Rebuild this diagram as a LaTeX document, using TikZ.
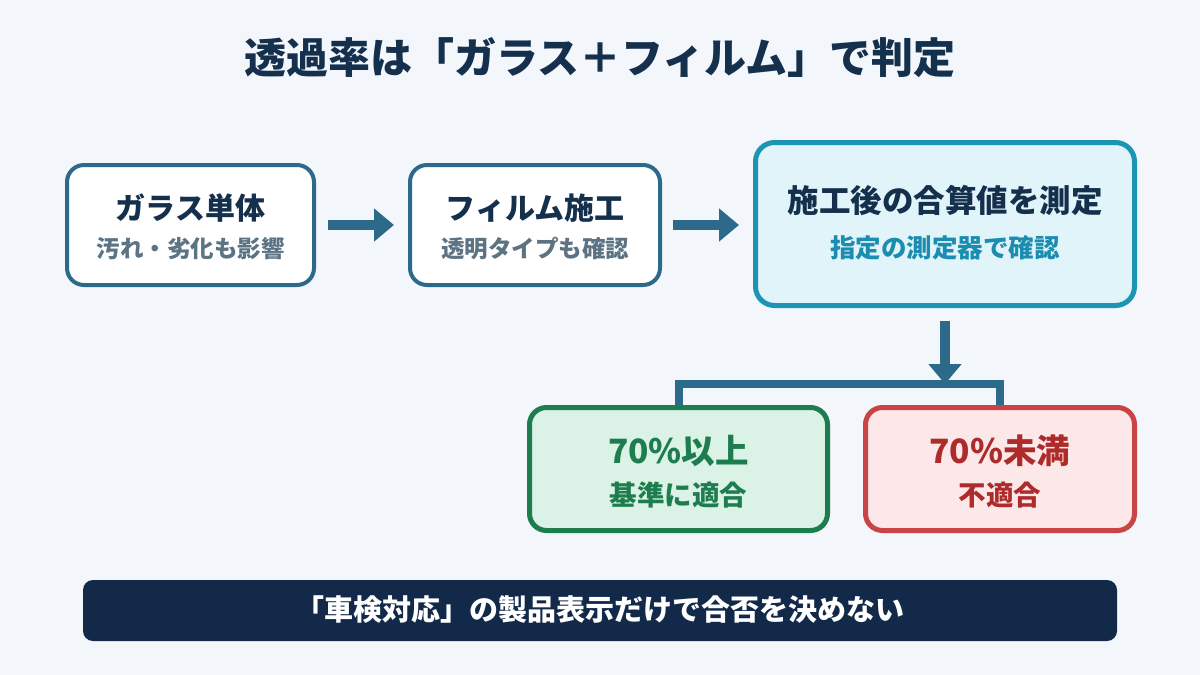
\documentclass[tikz,border=0pt]{standalone}
\usepackage{fontspec}
\setmainfont{Noto Sans CJK JP}
\usetikzlibrary{arrows.meta}
\definecolor{bg}{HTML}{F3F7FC}
\definecolor{navy}{HTML}{15304D}
\definecolor{steel}{HTML}{2D6A8A}
\definecolor{subgray}{HTML}{5C7384}
\definecolor{teal}{HTML}{1C95B5}
\definecolor{tealfill}{HTML}{E1F4FA}
\definecolor{tealtext}{HTML}{1A8DB0}
\definecolor{grn}{HTML}{1E7D4F}
\definecolor{grnfill}{HTML}{DAF3E6}
\definecolor{rd}{HTML}{C94545}
\definecolor{rdfill}{HTML}{FCE8E8}
\definecolor{rdtext}{HTML}{AE2B2B}
\definecolor{bar}{HTML}{12294A}
\tikzset{
  stepbox/.style={draw=steel, fill=white, line width=4pt, rounded corners=17pt, inner sep=0pt},
  measbox/.style={draw=teal, fill=tealfill, line width=5pt, rounded corners=19pt, inner sep=0pt},
  okbox/.style={draw=grn, fill=grnfill, line width=5pt, rounded corners=17pt, inner sep=0pt},
  ngbox/.style={draw=rd, fill=rdfill, line width=5pt, rounded corners=17pt, inner sep=0pt},
  flow/.style={draw=steel, line width=10pt, -{Triangle[length=20pt,width=32pt]}},
  bracket/.style={draw=steel, line width=8pt},
  txt/.style={inner sep=0pt, font=\bfseries},
}
\begin{document}
\begin{tikzpicture}[x=1pt,y=-1pt]
\fill[bg] (0,0) rectangle (1200,675);
\useasboundingbox (0,0) rectangle (1200,675);

\node[txt, text=navy, font=\bfseries\fontsize{42}{46}\selectfont] (title) at (600,58) {透過率は「ガラス＋フィルム」で判定};

\node[stepbox, minimum width=247pt, minimum height=120pt] (b1) at (190.5,225) {};
\node[stepbox, minimum width=250pt, minimum height=120pt] (b2) at (535,225) {};
\node[measbox, minimum width=379pt, minimum height=163pt] (b3) at (945,224) {};

\node[txt, text=navy, font=\bfseries\fontsize{30}{33}\selectfont] (b1t) at (190.5,208) {ガラス単体};
\node[txt, text=subgray, font=\bfseries\fontsize{23.5}{26}\selectfont] (b1s) at (190.5,249) {汚れ・劣化も影響};
\node[txt, text=navy, font=\bfseries\fontsize{30}{33}\selectfont] (b2t) at (535,208) {フィルム施工};
\node[txt, text=subgray, font=\bfseries\fontsize{23.5}{26}\selectfont] (b2s) at (535,249) {透明タイプも確認};
\node[txt, text=navy, font=\bfseries\fontsize{31.5}{34}\selectfont] (b3t) at (945,200) {施工後の合算値を測定};
\node[txt, text=tealtext, font=\bfseries\fontsize{25.5}{28}\selectfont] (b3s) at (945,248) {指定の測定器で確認};

\draw[flow, shorten <=12pt, shorten >=14pt] (b1.east) -- (b2.west);
\draw[flow, shorten <=11pt, shorten >=14pt] (b2.east) -- (b2.east -| b3.west);

\node[okbox, minimum width=298pt, minimum height=123pt] (ok) at (678.5,469) {};
\node[ngbox, minimum width=269pt, minimum height=123pt] (ng) at (1000,469) {};

\coordinate (j) at (945,384);
\draw[flow, shorten <=13pt] (b3.south) -- (j);
\draw[bracket] (ok.north) -- (ok.north |- j) -- (ng.north |- j) -- (ng.north);

\node[txt, text=grn, font=\bfseries\fontsize{33.5}{36}\selectfont] (okt) at (678.5,451) {70\%以上};
\node[txt, text=grn, font=\bfseries\fontsize{27.5}{30}\selectfont] (oks) at (678.5,495) {基準に適合};
\node[txt, text=rdtext, font=\bfseries\fontsize{33.5}{36}\selectfont] (ngt) at (1000,451) {70\%未満};
\node[txt, text=rdtext, font=\bfseries\fontsize{27.5}{30}\selectfont] (ngs) at (1000,495) {不適合};

\node[fill=bar, rounded corners=10pt, minimum width=1034pt, minimum height=61pt, inner sep=0pt] (barbox) at (600,610.5) {};
\node[txt, text=white, font=\bfseries\fontsize{29}{32}\selectfont] (bart) at (600,610) {「車検対応」の製品表示だけで合否を決めない};
\end{tikzpicture}
\end{document}
